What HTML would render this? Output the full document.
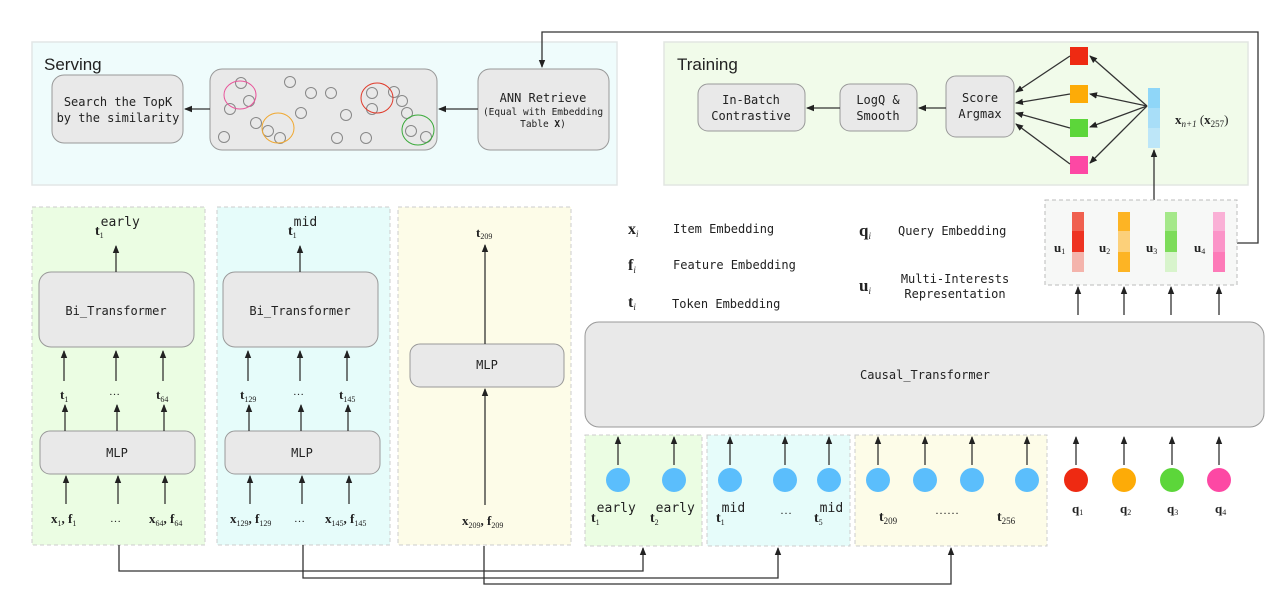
<!DOCTYPE html>
<html><head><meta charset="utf-8"><style>
html,body{margin:0;padding:0;background:#fff;}
svg{display:block}
.m{font-family:"DejaVu Sans Mono","Liberation Mono",monospace;fill:#222}
.s{font-family:"Liberation Serif",serif;fill:#222;font-weight:bold}
.ss{font-family:"Liberation Serif",serif;fill:#222;font-weight:normal}
.b{fill:#e9e9e9;stroke:#999;stroke-width:1}
.l{stroke:#333;stroke-width:1.3;fill:none}
.c{fill:none;stroke:#888;stroke-width:1}
</style></head><body>
<svg width="1280" height="599" viewBox="0 0 1280 599" xmlns="http://www.w3.org/2000/svg" font-size="12">
<defs><marker id="a" markerWidth="8" markerHeight="8" refX="7" refY="4" orient="auto" markerUnits="userSpaceOnUse"><path d="M0,0.8 L8,4 L0,7.2z" fill="#222"/></marker></defs>

<!-- Serving -->
<rect x="32" y="42" width="585" height="143" fill="#effcfc" stroke="#e2e6e6" stroke-width="1.5"/>
<text x="44" y="70" font-family="Liberation Sans,sans-serif" font-size="17" fill="#222">Serving</text>
<rect class="b" x="52" y="75" width="131" height="68" rx="12"/>
<text class="m" x="118" y="106" text-anchor="middle">Search the TopK</text>
<text class="m" x="118" y="122" text-anchor="middle">by the similarity</text>
<rect class="b" x="210" y="69" width="227" height="81" rx="12"/>
<g class="c">
<circle cx="241" cy="83" r="5.5"/><circle cx="249" cy="101" r="5.5"/><circle cx="230" cy="109" r="5.5"/><circle cx="290" cy="82" r="5.5"/><circle cx="311" cy="93" r="5.5"/><circle cx="331" cy="93" r="5.5"/><circle cx="301" cy="113" r="5.5"/><circle cx="346" cy="115" r="5.5"/><circle cx="256" cy="123" r="5.5"/><circle cx="268" cy="131" r="5.5"/><circle cx="280" cy="138" r="5.5"/><circle cx="224" cy="137" r="5.5"/><circle cx="337" cy="138" r="5.5"/><circle cx="366" cy="138" r="5.5"/><circle cx="372" cy="93" r="5.5"/><circle cx="372" cy="109" r="5.5"/><circle cx="394" cy="92" r="5.5"/><circle cx="402" cy="101" r="5.5"/><circle cx="407" cy="113" r="5.5"/><circle cx="411" cy="131" r="5.5"/><circle cx="426" cy="137" r="5.5"/>
</g>
<ellipse cx="240" cy="95" rx="16" ry="14" fill="none" stroke="#e8559a"/>
<ellipse cx="278" cy="128" rx="16" ry="15" fill="none" stroke="#f0a830"/>
<ellipse cx="377" cy="98" rx="16" ry="15" fill="none" stroke="#e03a2a"/>
<ellipse cx="418" cy="130" rx="16" ry="15" fill="none" stroke="#3aaa3a"/>
<rect class="b" x="478" y="69" width="131" height="81" rx="12"/>
<text class="m" x="543" y="102" text-anchor="middle" style="font-size:12px">ANN Retrieve</text>
<text class="m" x="543" y="115" text-anchor="middle" style="font-size:9.5px">(Equal with Embedding</text>
<text class="m" x="543" y="127" text-anchor="middle" style="font-size:9.5px">Table <tspan font-weight="bold">X</tspan>)</text>
<line class="l" x1="478" y1="109" x2="439" y2="109" marker-end="url(#a)"/>
<line class="l" x1="210" y1="109" x2="185" y2="109" marker-end="url(#a)"/>
<polyline class="l" points="1237,243 1258,243 1258,32 542,32 542,67" marker-end="url(#a)"/>

<!-- Training -->
<rect x="664" y="42" width="584" height="143" fill="#f1fbea" stroke="#e2e6e2" stroke-width="1.5"/>
<text x="677" y="70" font-family="Liberation Sans,sans-serif" font-size="17" fill="#222">Training</text>
<rect class="b" x="698" y="84" width="107" height="47" rx="10"/>
<text class="m" x="751" y="104" text-anchor="middle">In-Batch</text>
<text class="m" x="751" y="120" text-anchor="middle">Contrastive</text>
<rect class="b" x="840" y="84" width="77" height="47" rx="10"/>
<text class="m" x="878" y="104" text-anchor="middle">LogQ &amp;</text>
<text class="m" x="878" y="120" text-anchor="middle">Smooth</text>
<rect class="b" x="946" y="76" width="68" height="61" rx="10"/>
<text class="m" x="980" y="102" text-anchor="middle">Score</text>
<text class="m" x="980" y="118" text-anchor="middle">Argmax</text>
<line class="l" x1="840" y1="108" x2="807" y2="108" marker-end="url(#a)"/>
<line class="l" x1="946" y1="108" x2="919" y2="108" marker-end="url(#a)"/>
<rect x="1070" y="47" width="18" height="18" fill="#ee2a12"/>
<rect x="1070" y="85" width="18" height="18" fill="#fdab07"/>
<rect x="1070" y="119" width="18" height="18" fill="#5cd63a"/>
<rect x="1070" y="156" width="18" height="18" fill="#fd48a4"/>
<rect x="1148" y="88" width="12" height="20" fill="#8fd6f8"/>
<rect x="1148" y="108" width="12" height="20" fill="#a8def8"/>
<rect x="1148" y="128" width="12" height="20" fill="#bde6f8"/>
<g class="l">
<line x1="1070" y1="56" x2="1016" y2="92" marker-end="url(#a)"/>
<line x1="1070" y1="94" x2="1016" y2="103" marker-end="url(#a)"/>
<line x1="1070" y1="128" x2="1016" y2="113" marker-end="url(#a)"/>
<line x1="1070" y1="164" x2="1016" y2="124" marker-end="url(#a)"/>
<line x1="1147" y1="106" x2="1090" y2="56" marker-end="url(#a)"/>
<line x1="1147" y1="106" x2="1090" y2="94" marker-end="url(#a)"/>
<line x1="1147" y1="106" x2="1090" y2="127" marker-end="url(#a)"/>
<line x1="1147" y1="106" x2="1090" y2="163" marker-end="url(#a)"/>
<line x1="1154" y1="200" x2="1154" y2="150" marker-end="url(#a)"/>
</g>
<text class="s" x="1175" y="124" font-size="13">x<tspan font-size="9" dy="3" font-style="italic" font-weight="normal">n+1</tspan><tspan dy="-3" font-weight="normal">  (</tspan>x<tspan font-size="9" dy="3" font-weight="normal">257</tspan><tspan dy="-3" font-weight="normal">)</tspan></text>

<!-- u box -->
<rect x="1045" y="200" width="192" height="85" fill="#f7f8f7" stroke="#bbb" stroke-dasharray="4,3"/>
<rect x="1072" y="212" width="12" height="19" fill="#f0604f"/><rect x="1072" y="231" width="12" height="21" fill="#ee3322"/><rect x="1072" y="252" width="12" height="20" fill="#f4b4ac"/>
<rect x="1118" y="212" width="12" height="19" fill="#fdb424"/><rect x="1118" y="231" width="12" height="21" fill="#fcd07a"/><rect x="1118" y="252" width="12" height="20" fill="#fdb424"/>
<rect x="1165" y="212" width="12" height="19" fill="#a5e88a"/><rect x="1165" y="231" width="12" height="21" fill="#7ddc5a"/><rect x="1165" y="252" width="12" height="20" fill="#d8f4cc"/>
<rect x="1213" y="212" width="12" height="19" fill="#fab0d6"/><rect x="1213" y="231" width="12" height="21" fill="#fb94c8"/><rect x="1213" y="252" width="12" height="20" fill="#fd7ab8"/>
<text class="s" x="1054" y="252" font-size="13">u<tspan font-size="8" dy="2" font-weight="normal">1</tspan></text>
<text class="s" x="1099" y="252" font-size="13">u<tspan font-size="8" dy="2" font-weight="normal">2</tspan></text>
<text class="s" x="1146" y="252" font-size="13">u<tspan font-size="8" dy="2" font-weight="normal">3</tspan></text>
<text class="s" x="1194" y="252" font-size="13">u<tspan font-size="8" dy="2" font-weight="normal">4</tspan></text>
<g class="l">
<line x1="1078" y1="315" x2="1078" y2="287" marker-end="url(#a)"/>
<line x1="1124" y1="315" x2="1124" y2="287" marker-end="url(#a)"/>
<line x1="1171" y1="315" x2="1171" y2="287" marker-end="url(#a)"/>
<line x1="1219" y1="315" x2="1219" y2="287" marker-end="url(#a)"/>
</g>

<!-- legend -->
<text class="s" x="628" y="234" font-size="16">x<tspan font-size="9" font-style="italic" font-weight="normal" dy="3">i</tspan></text>
<text class="m" x="673" y="233">Item Embedding</text>
<text class="s" x="628" y="270" font-size="16">f<tspan font-size="9" font-style="italic" font-weight="normal" dy="3">i</tspan></text>
<text class="m" x="673" y="269">Feature Embedding</text>
<text class="s" x="628" y="307" font-size="16">t<tspan font-size="9" font-style="italic" font-weight="normal" dy="3">i</tspan></text>
<text class="m" x="672" y="308">Token Embedding</text>
<text class="s" x="859" y="236" font-size="17">q<tspan font-size="9" font-style="italic" font-weight="normal" dy="3">i</tspan></text>
<text class="m" x="898" y="235">Query Embedding</text>
<text class="s" x="859" y="291" font-size="17">u<tspan font-size="9" font-style="italic" font-weight="normal" dy="3">i</tspan></text>
<text class="m" x="955" y="283" text-anchor="middle">Multi-Interests</text>
<text class="m" x="955" y="298" text-anchor="middle">Representation</text>

<!-- Causal -->
<rect class="b" x="585" y="322" width="679" height="105" rx="14"/>
<text class="m" x="925" y="379" text-anchor="middle">Causal_Transformer</text>

<!-- bottom token panels -->
<rect x="585" y="435" width="117" height="111" fill="#ebfde3" stroke="#ccc" stroke-dasharray="4,3"/>
<rect x="707" y="435" width="143" height="111" fill="#e6fcfa" stroke="#ccc" stroke-dasharray="4,3"/>
<rect x="855" y="435" width="192" height="111" fill="#fdfce8" stroke="#ccc" stroke-dasharray="4,3"/>
<g fill="#5bbefc">
<ellipse cx="618" cy="480" rx="12" ry="12"/><ellipse cx="674" cy="480" rx="12" ry="12"/>
<ellipse cx="730" cy="480" rx="12" ry="12"/><ellipse cx="785" cy="480" rx="12" ry="12"/><ellipse cx="829" cy="480" rx="12" ry="12"/>
<ellipse cx="878" cy="480" rx="12" ry="12"/><ellipse cx="925" cy="480" rx="12" ry="12"/><ellipse cx="972" cy="480" rx="12" ry="12"/><ellipse cx="1027" cy="480" rx="12" ry="12"/>
</g>
<ellipse cx="1076" cy="480" rx="12" ry="12" fill="#ee2a12"/>
<ellipse cx="1124" cy="480" rx="12" ry="12" fill="#fdab07"/>
<ellipse cx="1172" cy="480" rx="12" ry="12" fill="#5cd63a"/>
<ellipse cx="1219" cy="480" rx="12" ry="12" fill="#fd48a4"/>
<g class="l">
<line x1="618" y1="465" x2="618" y2="437" marker-end="url(#a)"/><line x1="674" y1="465" x2="674" y2="437" marker-end="url(#a)"/>
<line x1="730" y1="465" x2="730" y2="437" marker-end="url(#a)"/><line x1="785" y1="465" x2="785" y2="437" marker-end="url(#a)"/><line x1="829" y1="465" x2="829" y2="437" marker-end="url(#a)"/>
<line x1="878" y1="465" x2="878" y2="437" marker-end="url(#a)"/><line x1="925" y1="465" x2="925" y2="437" marker-end="url(#a)"/><line x1="972" y1="465" x2="972" y2="437" marker-end="url(#a)"/><line x1="1027" y1="465" x2="1027" y2="437" marker-end="url(#a)"/>
<line x1="1076" y1="465" x2="1076" y2="437" marker-end="url(#a)"/><line x1="1124" y1="465" x2="1124" y2="437" marker-end="url(#a)"/><line x1="1172" y1="465" x2="1172" y2="437" marker-end="url(#a)"/><line x1="1219" y1="465" x2="1219" y2="437" marker-end="url(#a)"/>
</g>
<text class="s" x="591" y="522" font-size="14">t<tspan font-size="8" font-weight="normal" dy="3">1</tspan><tspan class="m" font-weight="normal" font-size="13" dy="-13" dx="-3">early</tspan></text>
<text class="s" x="650" y="522" font-size="14">t<tspan font-size="8" font-weight="normal" dy="3">2</tspan><tspan class="m" font-weight="normal" font-size="13" dy="-13" dx="-3">early</tspan></text>
<text class="s" x="716" y="522" font-size="14">t<tspan font-size="8" font-weight="normal" dy="3">1</tspan><tspan class="m" font-weight="normal" font-size="13" dy="-13" dx="-3">mid</tspan></text>
<text class="ss" x="780" y="514" font-size="12">…</text>
<text class="s" x="814" y="522" font-size="14">t<tspan font-size="8" font-weight="normal" dy="3">5</tspan><tspan class="m" font-weight="normal" font-size="13" dy="-13" dx="-3">mid</tspan></text>
<text class="s" x="879" y="521" font-size="14">t<tspan font-size="9" font-weight="normal" dy="3">209</tspan></text>
<text class="ss" x="935" y="514" font-size="12">……</text>
<text class="s" x="997" y="521" font-size="14">t<tspan font-size="9" font-weight="normal" dy="3">256</tspan></text>
<text class="s" x="1072" y="513" font-size="13">q<tspan font-size="8" font-weight="normal" dy="2">1</tspan></text>
<text class="s" x="1120" y="513" font-size="13">q<tspan font-size="8" font-weight="normal" dy="2">2</tspan></text>
<text class="s" x="1167" y="513" font-size="13">q<tspan font-size="8" font-weight="normal" dy="2">3</tspan></text>
<text class="s" x="1215" y="513" font-size="13">q<tspan font-size="8" font-weight="normal" dy="2">4</tspan></text>

<!-- left columns -->
<rect x="32" y="207" width="173" height="338" fill="#ebfde3" stroke="#ccc" stroke-dasharray="4,3"/>
<rect x="217" y="207" width="173" height="338" fill="#e6fcfa" stroke="#ccc" stroke-dasharray="4,3"/>
<rect x="398" y="207" width="173" height="338" fill="#fdfce8" stroke="#ccc" stroke-dasharray="4,3"/>

<rect class="b" x="39" y="272" width="155" height="75" rx="12"/>
<text class="m" x="116" y="315" text-anchor="middle">Bi_Transformer</text>
<rect class="b" x="40" y="431" width="155" height="43" rx="10"/>
<text class="m" x="117" y="457" text-anchor="middle">MLP</text>
<rect class="b" x="223" y="272" width="155" height="75" rx="12"/>
<text class="m" x="300" y="315" text-anchor="middle">Bi_Transformer</text>
<rect class="b" x="225" y="431" width="155" height="43" rx="10"/>
<text class="m" x="302" y="457" text-anchor="middle">MLP</text>
<rect class="b" x="410" y="344" width="154" height="43" rx="10"/>
<text class="m" x="487" y="369" text-anchor="middle">MLP</text>

<g class="l">
<line x1="116" y1="272" x2="116" y2="246" marker-end="url(#a)"/>
<line x1="300" y1="272" x2="300" y2="246" marker-end="url(#a)"/>
<line x1="485" y1="344" x2="485" y2="245" marker-end="url(#a)"/>
<line x1="485" y1="505" x2="485" y2="389" marker-end="url(#a)"/>
<line x1="64" y1="381" x2="64" y2="351" marker-end="url(#a)"/><line x1="116" y1="381" x2="116" y2="351" marker-end="url(#a)"/><line x1="163" y1="381" x2="163" y2="351" marker-end="url(#a)"/>
<line x1="65" y1="431" x2="65" y2="405" marker-end="url(#a)"/><line x1="117" y1="431" x2="117" y2="405" marker-end="url(#a)"/><line x1="164" y1="431" x2="164" y2="405" marker-end="url(#a)"/>
<line x1="66" y1="504" x2="66" y2="476" marker-end="url(#a)"/><line x1="118" y1="504" x2="118" y2="476" marker-end="url(#a)"/><line x1="165" y1="504" x2="165" y2="476" marker-end="url(#a)"/>
<line x1="248" y1="381" x2="248" y2="351" marker-end="url(#a)"/><line x1="300" y1="381" x2="300" y2="351" marker-end="url(#a)"/><line x1="347" y1="381" x2="347" y2="351" marker-end="url(#a)"/>
<line x1="249" y1="431" x2="249" y2="405" marker-end="url(#a)"/><line x1="301" y1="431" x2="301" y2="405" marker-end="url(#a)"/><line x1="348" y1="431" x2="348" y2="405" marker-end="url(#a)"/>
<line x1="250" y1="504" x2="250" y2="476" marker-end="url(#a)"/><line x1="302" y1="504" x2="302" y2="476" marker-end="url(#a)"/><line x1="349" y1="504" x2="349" y2="476" marker-end="url(#a)"/>
</g>
<text class="s" x="95" y="235" font-size="14">t<tspan font-size="8" font-weight="normal" dy="3">1</tspan><tspan class="m" font-weight="normal" font-size="13" dy="-12" dx="-3">early</tspan></text>
<text class="s" x="288" y="235" font-size="14">t<tspan font-size="8" font-weight="normal" dy="3">1</tspan><tspan class="m" font-weight="normal" font-size="13" dy="-12" dx="-3">mid</tspan></text>
<text class="s" x="476" y="237" font-size="13">t<tspan font-size="8" font-weight="normal" dy="2">209</tspan></text>
<text class="s" x="60" y="399" font-size="13">t<tspan font-size="8" font-weight="normal" dy="3">1</tspan></text>
<text class="ss" x="109" y="395" font-size="11">…</text>
<text class="s" x="156" y="399" font-size="13">t<tspan font-size="8" font-weight="normal" dy="3">64</tspan></text>
<text class="s" x="240" y="399" font-size="13">t<tspan font-size="8" font-weight="normal" dy="3">129</tspan></text>
<text class="ss" x="293" y="395" font-size="11">…</text>
<text class="s" x="339" y="399" font-size="13">t<tspan font-size="8" font-weight="normal" dy="3">145</tspan></text>
<text class="s" x="51" y="523" font-size="13">x<tspan font-size="8" font-weight="normal" dy="3">1</tspan><tspan dy="-3">, f</tspan><tspan font-size="8" font-weight="normal" dy="3">1</tspan></text>
<text class="ss" x="110" y="522" font-size="11">…</text>
<text class="s" x="149" y="523" font-size="13">x<tspan font-size="8" font-weight="normal" dy="3">64</tspan><tspan dy="-3">, f</tspan><tspan font-size="8" font-weight="normal" dy="3">64</tspan></text>
<text class="s" x="230" y="523" font-size="13">x<tspan font-size="8" font-weight="normal" dy="3">129</tspan><tspan dy="-3">, f</tspan><tspan font-size="8" font-weight="normal" dy="3">129</tspan></text>
<text class="ss" x="294" y="522" font-size="11">…</text>
<text class="s" x="325" y="523" font-size="13">x<tspan font-size="8" font-weight="normal" dy="3">145</tspan><tspan dy="-3">, f</tspan><tspan font-size="8" font-weight="normal" dy="3">145</tspan></text>
<text class="s" x="462" y="525" font-size="13">x<tspan font-size="8" font-weight="normal" dy="3">209</tspan><tspan dy="-3">, f</tspan><tspan font-size="8" font-weight="normal" dy="3">209</tspan></text>

<!-- connectors -->
<polyline class="l" points="119,545 119,571 643,571 643,548" marker-end="url(#a)"/>
<polyline class="l" points="303,545 303,578 778,578 778,548" marker-end="url(#a)"/>
<polyline class="l" points="484,546 484,584 951,584 951,548" marker-end="url(#a)"/>
</svg>
</body></html>
